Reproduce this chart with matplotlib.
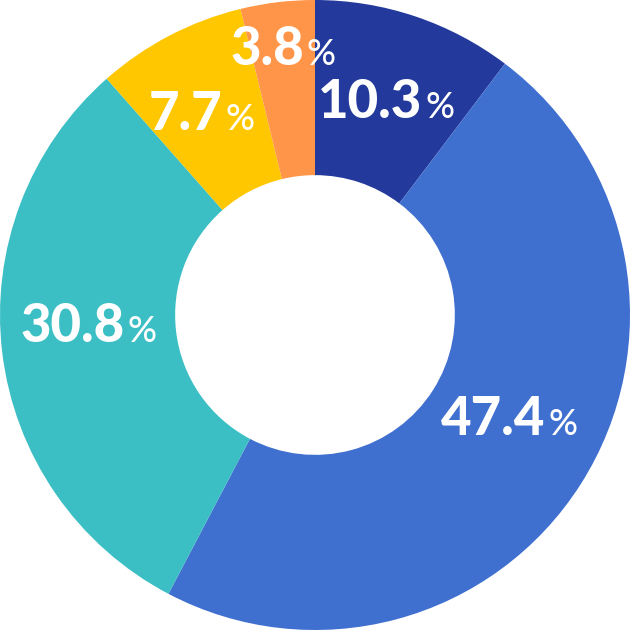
import numpy as np
import matplotlib
matplotlib.use("Agg")
import matplotlib.pyplot as plt
from matplotlib.offsetbox import TextArea, HPacker, AnnotationBbox

# slice values, clockwise from 12 o'clock
values = [10.3, 47.4, 30.8, 7.7, 3.8]
colors = ["#233a9c", "#3f6fcf", "#3bbfc4", "#ffc700", "#ff9548"]
label_dist = [0.71, 0.70, 0.72, 0.73, 0.85]
label_shift = [0, 4, -4, 2, 0]  # degrees


def main():
    fig = plt.figure(figsize=(6.3, 6.3), dpi=100)
    ax = fig.add_axes([0, 0, 1, 1])

    wedges, _ = ax.pie(values, colors=colors, startangle=90, counterclock=False,
                       radius=1.0, wedgeprops=dict(width=0.556, linewidth=0))

    for w, v, d, s in zip(wedges, values, label_dist, label_shift):
        ang = np.deg2rad((w.theta1 + w.theta2) / 2 + s)
        x, y = d * np.cos(ang), d * np.sin(ang)
        num = TextArea("%.1f" % v, textprops=dict(color="white", fontsize=38,
                                                    fontweight="black", family="Lato"))
        pct = TextArea("%", textprops=dict(color="white", fontsize=26,
                                           fontweight="medium", family="Lato"))
        box = HPacker(children=[num, pct], align="baseline", pad=0, sep=2)
        ab = AnnotationBbox(box, (x, y), frameon=False, box_alignment=(0.5, 0.5))
        ax.add_artist(ab)

    ax.set_xlim(-1.0, 1.0)
    ax.set_ylim(-1.0, 1.0)
    ax.set_aspect("equal")
    ax.axis("off")
    fig.savefig("out.png", dpi=100, facecolor="white")


if __name__ == '__main__':
    main()
